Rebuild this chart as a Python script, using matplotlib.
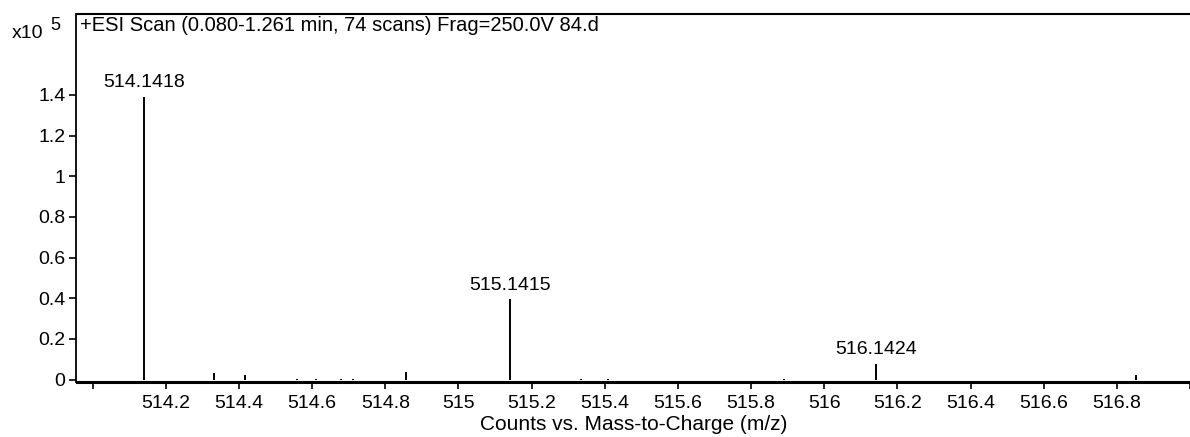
import numpy as np
import matplotlib.pyplot as plt

plt.rcParams['font.family'] = ['Liberation Sans', 'DejaVu Sans']

# picos del espectro (m/z, cuentas x10^5)
mz = [514.1418, 514.332, 514.416, 514.558, 514.612, 514.678, 514.713, 514.857,
      515.1415, 515.336, 515.41, 515.89, 516.1424, 516.852]
counts = [1.39, 0.034, 0.023, 0.005, 0.005, 0.005, 0.005, 0.036,
          0.395, 0.005, 0.005, 0.005, 0.076, 0.024]

# picos etiquetados
label_mz = [514.1418, 515.1415, 516.1424]
label_counts = [1.39, 0.395, 0.076]

xticks = np.round(np.arange(514.0, 517.01, 0.2), 1)
xticklabels = ["" if (t == 514.0 or t == 517.0) else f"{t:g}" for t in xticks]
yticks = [0, 0.2, 0.4, 0.6, 0.8, 1.0, 1.2, 1.4]
yticklabels = ["0", "0.2", "0.4", "0.6", "0.8", "1", "1.2", "1.4"]

W, H = 1190, 437
fig = plt.figure(figsize=(W / 100, H / 100), dpi=100)
ax = fig.add_axes([76.5 / W, (H - 381.5) / H, 1 - 76.5 / W, (381.5 - 13.5) / H])

ax.vlines(mz, 0, counts, color="black", linewidth=1.4)

for x, y in zip(label_mz, label_counts):
    ax.annotate(f"{x:.4f}", (x, y), xytext=(0, 7), textcoords="offset points",
                ha="center", va="baseline", fontsize=14)

ax.set_xlim(513.956, 516.99)
ax.set_ylim(-0.009, 1.80)

ax.set_xticks(xticks)
ax.set_xticklabels(xticklabels)
ax.set_yticks(yticks)
ax.set_yticklabels(yticklabels)
ax.tick_params(axis="x", direction="out", length=5, width=1.2, pad=5, labelsize=14)
ax.tick_params(axis="y", direction="out", length=5, width=1.2, pad=3, labelsize=14)

ax.spines["right"].set_visible(False)
ax.spines["top"].set_linewidth(1.5)
ax.spines["left"].set_linewidth(1.3)
ax.spines["bottom"].set_linewidth(2.2)

ax.set_xlabel("Counts vs. Mass-to-Charge (m/z)", fontsize=15, labelpad=2)

ax.text(0.003, 0.952, "+ESI Scan (0.080-1.261 min, 74 scans) Frag=250.0V 84.d",
        transform=ax.transAxes, ha="left", va="baseline", fontsize=14.5)
fig.text(43 / W, 1 - 38 / H, "x10", ha="right", va="baseline", fontsize=14)
fig.text(50 / W, 1 - 30 / H, "5", ha="left", va="baseline", fontsize=13)

fig.savefig("out.png", dpi=100)
